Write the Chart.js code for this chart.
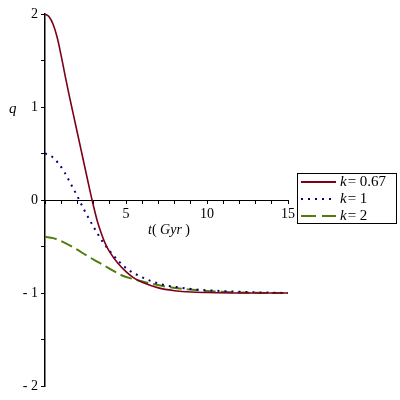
<!DOCTYPE html>
<html>
<head>
<meta charset="utf-8">
<script src="https://cdn.jsdelivr.net/npm/chart.js@4"></script>
<style>body{margin:0;background:#fff}</style>
</head>
<body>
<canvas id="qChart" width="400" height="400"></canvas>
<script>
// k = 0.67
const tK067 = [0, 0.25, 0.5, 0.75, 1.0, 1.25, 1.5, 1.75, 2.0, 2.25, 2.5, 2.75, 3.0, 3.25, 3.5, 3.75, 4.0, 4.5, 5.0, 5.5, 6.0, 7.0, 8.0, 9.0, 10, 12, 15]
const qK067 = [2.0, 1.97, 1.89, 1.75, 1.55, 1.33, 1.12, 0.92, 0.72, 0.52, 0.32, 0.12, -0.07, -0.24, -0.37, -0.48, -0.56, -0.68, -0.77, -0.84, -0.885, -0.945, -0.975, -0.99, -0.995, -1.0, -1.0]
// k = 1
const tK1 = [0, 0.4, 0.8, 1.2, 1.6, 2.0, 2.4, 3.0, 3.6, 4.0, 4.5, 5.1, 5.8, 6.6, 7.3, 8.1, 9.0, 9.8, 11, 12.5, 15]
const qK1 = [0.5, 0.47, 0.40, 0.30, 0.17, 0.04, -0.10, -0.29, -0.46, -0.55, -0.65, -0.745, -0.815, -0.875, -0.912, -0.935, -0.957, -0.968, -0.98, -0.99, -1.0]
// k = 2
const tK2 = [0, 0.5, 1.1, 1.85, 2.6, 3.4, 3.8, 4.2, 4.8, 5.45, 6.5, 7.5, 8.75, 10.2, 12, 15]
const qK2 = [-0.395, -0.41, -0.45, -0.52, -0.60, -0.68, -0.72, -0.76, -0.815, -0.85, -0.897, -0.932, -0.96, -0.98, -0.995, -1.0]

const kLabels = ['0.67', '1', '2']
const colors = ['rgb(125,0,25)', 'rgb(0,0,128)', 'rgb(80,125,10)']
const legendDash = [[], [2, 5], [15, 6]]

const pts = (ts, qs) => ts.map((t, i) => ({x: t, y: qs[i]}))

const serif = '"Liberation Serif", "DejaVu Serif", serif'

const textPlugin = {
  id: 'textBits',
  afterDraw(chart) {
    const ctx = chart.ctx
    ctx.save()
    ctx.fillStyle = '#000'
    ctx.textBaseline = 'middle'
    ctx.textAlign = 'left'

    // axis titles
    ctx.font = 'italic 15px ' + serif
    ctx.fillText('q', 9, 109)
    let x = 148
    const parts = [['t', true], ['( ', false], ['Gyr', true], [' )', false]]
    for (const [s, it] of parts) {
      ctx.font = (it ? 'italic ' : '') + '14px ' + serif
      ctx.fillText(s, x, 230)
      x += ctx.measureText(s).width
    }

    // legend box
    ctx.strokeStyle = '#000'
    ctx.lineWidth = 1
    ctx.strokeRect(297.5, 173.5, 99, 50)
    chart.data.datasets.forEach((ds, i) => {
      const y = 182 + i * 17
      ctx.strokeStyle = ds.borderColor
      ctx.lineWidth = 2
      ctx.setLineDash(legendDash[i])
      ctx.beginPath()
      ctx.moveTo(301, y)
      ctx.lineTo(336, y)
      ctx.stroke()
      ctx.setLineDash([])
      ctx.font = 'italic 15px ' + serif
      ctx.fillText('k', 340, y)
      const w = ctx.measureText('k').width
      ctx.font = '15px ' + serif
      ctx.fillText('= ' + kLabels[i], 340 + w + 1, y)
    })
    ctx.restore()
  }
}

new Chart(document.getElementById('qChart'), {
  type: 'line',
  data: {
    datasets: [
      {label: 'k = 0.67', data: pts(tK067, qK067), borderColor: colors[0], borderWidth: 1.6},
      {label: 'k = 1', data: pts(tK1, qK1), borderColor: colors[1], borderWidth: 2, borderDash: [2, 5]},
      {label: 'k = 2', data: pts(tK2, qK2), borderColor: colors[2], borderWidth: 2, borderDash: [12, 5]}
    ]
  },
  options: {
    responsive: false,
    animation: false,
    layout: {padding: {left: 0, right: 112, top: 14, bottom: 14}},
    elements: {point: {radius: 0}, line: {cubicInterpolationMode: 'monotone', fill: false}},
    plugins: {legend: {display: false}, tooltip: {enabled: false}},
    scales: {
      x: {
        type: 'linear', min: 0, max: 15, position: {y: 0},
        grid: {drawOnChartArea: false, tickLength: 3, color: '#000'},
        border: {color: '#000', width: 1},
        ticks: {stepSize: 1, autoSkip: false, maxRotation: 0, padding: 3, color: '#000',
          font: {family: serif, size: 14},
          callback: v => (v % 5 === 0 && v !== 0) ? String(v) : ''}
      },
      y: {
        type: 'linear', min: -2, max: 2, position: 'left',
        afterFit: s => { s.width = 45 },
        grid: {drawOnChartArea: false, tickLength: 4, color: '#000'},
        border: {color: '#000', width: 1.5},
        ticks: {stepSize: 0.5, autoSkip: false, padding: 3, color: '#000',
          font: {family: serif, size: 14},
          callback: v => Number.isInteger(v) ? (v < 0 ? '- ' + (-v) : String(v)) : ''}
      }
    }
  },
  plugins: [textPlugin]
})
</script>
</body>
</html>
